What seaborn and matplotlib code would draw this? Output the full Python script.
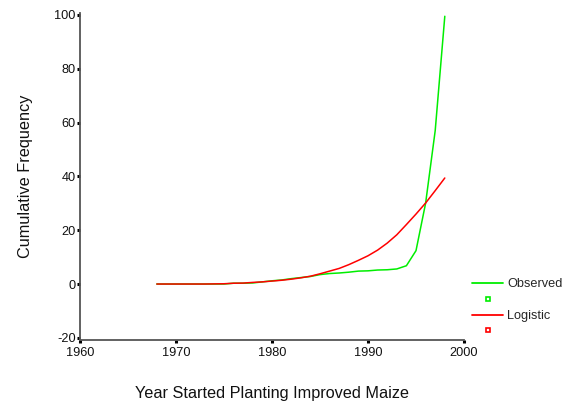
import matplotlib
matplotlib.use('Agg')
import matplotlib.pyplot as plt
import seaborn as sns
from matplotlib.lines import Line2D

# valores
years = list(range(1968, 1999))
observed = [0, 0, 0, 0, 0, 0, 0, 0,
            0.3, 0.3, 0.4, 0.8, 1.2, 1.5, 2.0, 2.4, 2.8, 3.5, 3.9, 4.1,
            4.4, 4.8, 4.9, 5.2, 5.3, 5.6, 6.8, 12.4, 30.0, 57.0, 99.5]
logistic = [0.0, 0.0, 0.0, 0.0, 0.0, 0.0, 0.05, 0.1,
            0.3, 0.35, 0.6, 0.8, 1.1, 1.4, 1.8, 2.3, 2.9, 3.8, 4.8, 5.8,
            7.2, 8.8, 10.5, 12.6, 15.2, 18.3, 22.1, 26.0, 30.1, 34.7, 39.4]
x_ticks = [1960, 1970, 1980, 1990, 2000]
y_ticks = [-20, 0, 20, 40, 60, 80, 100]

green = '#00ee00'
red = '#ff0000'

sns.set_style('white')
plt.rcParams['font.family'] = ['Liberation Sans', 'DejaVu Sans']
plt.rcParams['axes.unicode_minus'] = False

fig = plt.figure(figsize=(5.68, 4.04), dpi=100)
ax = fig.add_axes([80 / 568, 1 - 340 / 404, 384 / 568, (340 - 13.3) / 404])

sns.lineplot(x=years, y=observed, color=green, linewidth=1.1, ax=ax)
sns.lineplot(x=years, y=logistic, color=red, linewidth=1.1, ax=ax)

ax.set_xlim(1960, 2000)
ax.set_ylim(-20.8, 100.6)
ax.set_xticks(x_ticks)
ax.set_yticks(y_ticks)
ax.tick_params(bottom=True, left=True, labelsize=9.2, length=2.2, width=2.2, color='black',
               direction='out', labelcolor='#111111')
ax.tick_params(axis='x', pad=2.5)
ax.tick_params(axis='y', pad=1)
for side in ['top', 'right']:
    ax.spines[side].set_visible(False)
for side in ['left', 'bottom']:
    ax.spines[side].set_color('#555555')
    ax.spines[side].set_linewidth(1.3)

ax.set_xlabel('Year Started Planting Improved Maize', fontsize=11.7, labelpad=20, color='#111111')
ax.set_ylabel('Cumulative Frequency', fontsize=11.7, labelpad=15, color='#111111')

handles = [
    Line2D([], [], color=green, linewidth=1.3),
    Line2D([], [], color=green, marker='s', linestyle='none', markersize=3.5,
           markerfacecolor='white', markeredgewidth=1.2),
    Line2D([], [], color=red, linewidth=1.3),
    Line2D([], [], color=red, marker='s', linestyle='none', markersize=3.5,
           markerfacecolor='white', markeredgewidth=1.2),
]
fig.legend(handles, ['Observed', ' ', 'Logistic', ' '], loc='upper left',
           bbox_to_anchor=(466 / 568, 1 - 272 / 404), frameon=False, fontsize=9.2,
           handlelength=2.4, handletextpad=0.3, labelspacing=0.3, borderpad=0)

fig.savefig('out.png', dpi=100)
